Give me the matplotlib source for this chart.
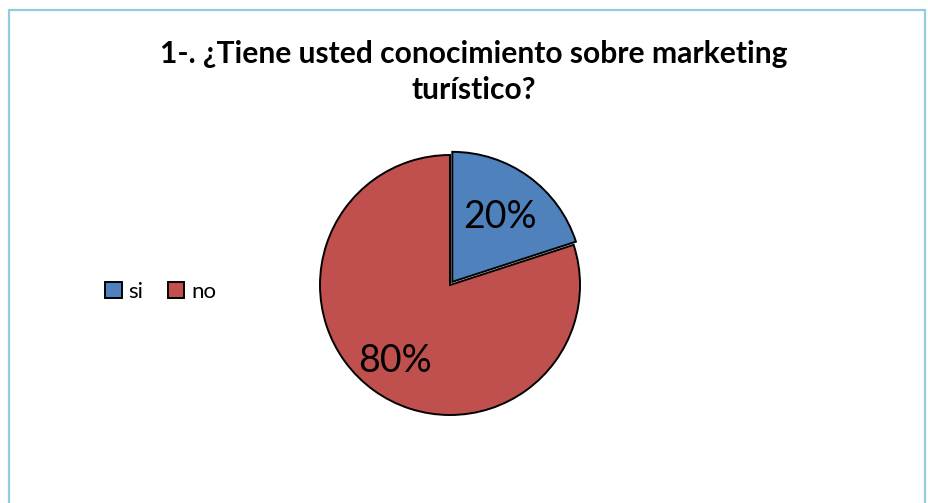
import numpy as np
import matplotlib.pyplot as plt
from matplotlib.patches import Rectangle

labels = ['si', 'no']
values = [20, 80]
colors = ['#4F81BD', '#C0504D']
title = '1-. ¿Tiene usted conocimiento sobre marketing\nturístico?'

plt.rcParams['font.family'] = ['Lato', 'DejaVu Sans']

fig = plt.figure(figsize=(9.29, 5.03), dpi=100)
W, H = 929, 503

# chart border
fig.patches.append(Rectangle((9 / W, -0.05), 916 / W, 1 - 10 / H + 0.05,
                             transform=fig.transFigure, fill=False,
                             edgecolor='#93CDDD', linewidth=1.6))

fig.text(474 / W, 1 - 72 / H, title, ha='center', va='center',
         fontsize=21.6, fontweight='bold', linespacing=1.35)

# pie, radius ~130 px centered at (450, 285)
ax = fig.add_axes([320 / W, 88 / H, 260 / W, 260 / H])
wedges, texts, autotexts = ax.pie(
    values, colors=colors, startangle=90, counterclock=False,
    explode=[0.03, 0], autopct='%1.0f%%', pctdistance=0.68,
    wedgeprops=dict(edgecolor='black', linewidth=1.4),
    textprops=dict(fontsize=27))

# label distances differ a bit per slice
dist = [0.62, 0.72]
for w, t, d in zip(wedges, autotexts, dist):
    ang = np.deg2rad((w.theta1 + w.theta2) / 2)
    cx, cy = w.center
    t.set_position((cx + d * np.cos(ang), cy + d * np.sin(ang)))

ax.set_xlim(-1.0, 1.0)
ax.set_ylim(-1.0, 1.0)
ax.set_aspect('equal')

fig.legend(wedges, labels, loc='center left', bbox_to_anchor=(85 / W, 1 - 292 / H),
           ncol=2, frameon=False, fontsize=16, handlelength=0.75, handleheight=0.75,
           handletextpad=0.3, columnspacing=1.1)

fig.savefig('out.png', dpi=100)
